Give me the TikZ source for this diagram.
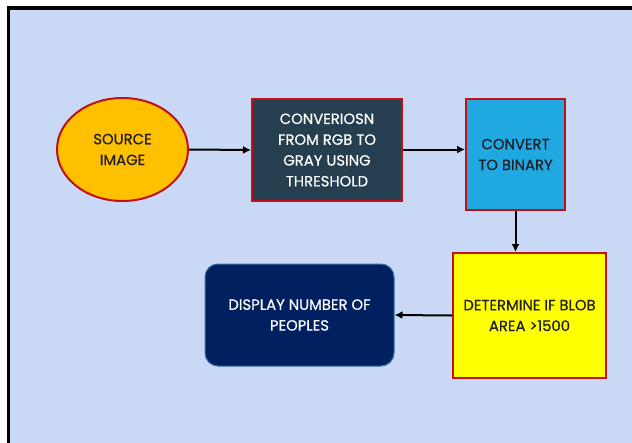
\documentclass[tikz,border=0pt]{standalone}
\usepackage{fontspec}
\setmainfont{Poppins}
\usetikzlibrary{arrows.meta,shapes.geometric}
\definecolor{bg}{RGB}{200,216,245}
\definecolor{redborder}{RGB}{192,16,24}
\definecolor{orangefill}{RGB}{255,192,0}
\definecolor{slatefill}{RGB}{37,62,80}
\definecolor{cyanfill}{RGB}{32,168,224}
\definecolor{yellowfill}{RGB}{255,255,0}
\definecolor{navyfill}{RGB}{0,32,96}
\definecolor{navyborder}{RGB}{60,110,160}
\definecolor{darktext}{RGB}{30,30,40}
\tikzset{
  boxtext/.style={align=center, font=\fontsize{14.8}{20.8}\selectfont\addfontfeature{FakeBold=0.5}, inner sep=0pt},
  redbox/.style={boxtext, draw=redborder, line width=2pt, rectangle},
  flow/.style={draw=black, line width=2pt, -{Latex[length=8pt,width=8pt]}},
}
\begin{document}
\begin{tikzpicture}[x=1pt,y=-1pt]
\useasboundingbox (0,0) rectangle (632,442);
\clip (0,0) rectangle (632,442);
\fill[white] (0,0) rectangle (632,442);
\draw[fill=bg, line width=3.5pt] (8.5,8) rectangle (640,452);

\node[boxtext, ellipse, draw=redborder, line width=2pt, fill=orangefill, text=darktext,
      minimum width=131pt, minimum height=103pt] (src) at (122.5,149.5) {SOURCE\\IMAGE};
\node[redbox, fill=slatefill, text=white, minimum width=150pt, minimum height=102pt]
      (gray) at (327,150) {CONVERIOSN\\FROM RGB TO\\GRAY USING\\THRESHOLD};
\node[redbox, fill=cyanfill, text=darktext, minimum width=99pt, minimum height=111pt]
      (bin) at (515.5,154.5) {CONVERT\\TO BINARY};
\node[redbox, fill=yellowfill, text=darktext, minimum width=153pt, minimum height=125pt]
      (blob) at (529.5,315.5) {DETERMINE IF BLOB\\AREA >1500};
\node[boxtext, rectangle, rounded corners=13pt, draw=navyborder, line width=1pt, fill=navyfill,
      text=white, minimum width=189pt, minimum height=102pt] (disp) at (299.5,315)
      {DISPLAY NUMBER OF\\PEOPLES};

\draw[flow] (src.east) -- (gray.west);
\draw[flow] (gray.east |- src.east) -- (bin.west |- src.east);
\draw[flow] (bin.south) -- (bin.south |- blob.north);
\draw[flow] (blob.west) -- (disp.east);
\end{tikzpicture}
\end{document}
